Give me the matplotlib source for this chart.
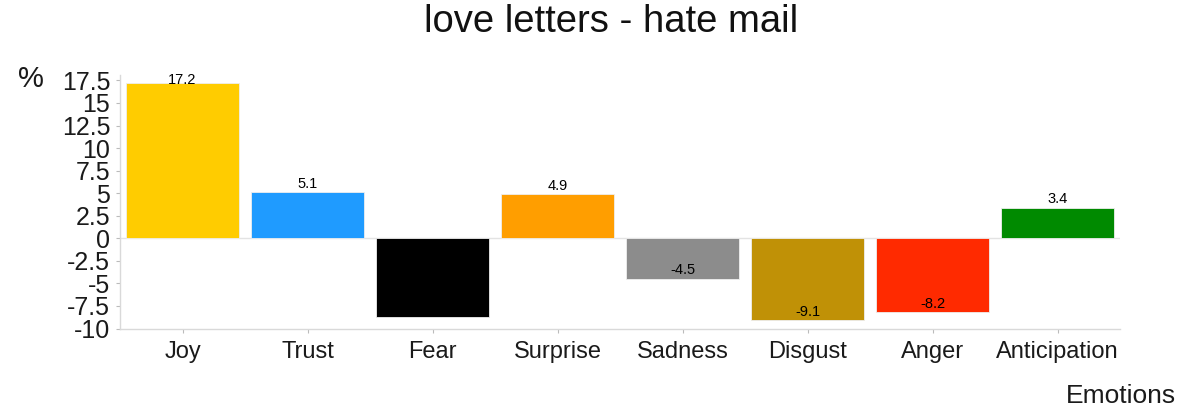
import numpy as np
import matplotlib.pyplot as plt

plt.rcParams['font.family'] = ['Liberation Sans', 'DejaVu Sans']

emotions = ["Joy", "Trust", "Fear", "Surprise", "Sadness", "Disgust", "Anger", "Anticipation"]
values = [17.2, 5.1, -8.7, 4.9, -4.5, -9.1, -8.2, 3.4]
colors = ["#FFCC00", "#1F9BFF", "#000000", "#FF9E00", "#8C8C8C", "#C09106", "#FF2A00", "#008A00"]
yticks = [-10, -7.5, -5, -2.5, 0, 2.5, 5, 7.5, 10, 12.5, 15, 17.5]
ytick_labels = ["-10", "-7.5", "-5", "-2.5", "0", "2.5", "5", "7.5", "10", "12.5", "15", "17.5"]

fig = plt.figure(figsize=(11.84, 4.09), dpi=100)
ax = fig.add_axes([0.1014, 0.1956, 0.8446, 0.621])

x = np.arange(len(emotions))
ax.axhline(0, color="#e3e3e3", lw=1, zorder=1)
ax.bar(x, values, width=0.9, color=colors, edgecolor="#eeeeee", linewidth=0.6, zorder=2)

# value labels just above the bar end (black, so the one on the black bar disappears)
for i, v in enumerate(values):
    ty = min(v + 0.95, 17.55)
    ax.text(i, ty, "%.1f" % v, ha="center", va="center", fontsize=10.5, color="black", zorder=3)

ax.set_xlim(-0.5, len(emotions) - 0.5)
ax.set_ylim(-10.05, 18.1)
ax.set_xticks(x)
ax.set_xticklabels(emotions, fontsize=17, color="#1a1a1a")
ax.set_yticks(yticks)
ax.set_yticklabels(ytick_labels, fontsize=18, color="#1a1a1a")
ax.tick_params(axis="both", length=3, width=0.8, color="#bbbbbb", pad=4)
ax.tick_params(axis="x", pad=6)

for s in ["top", "right"]:
    ax.spines[s].set_visible(False)
for s in ["left", "bottom"]:
    ax.spines[s].set_color("#d9d9d9")
    ax.spines[s].set_linewidth(1)

fig.text(0.516, 0.945, "love letters - hate mail", ha="center", va="center", fontsize=27.5, color="#111111")
fig.text(0.026, 0.807, "%", ha="center", va="center", fontsize=21, color="#1a1a1a")
fig.text(0.993, 0.032, "Emotions", ha="right", va="center", fontsize=19, color="#1a1a1a")

fig.savefig("out.png", dpi=100)
